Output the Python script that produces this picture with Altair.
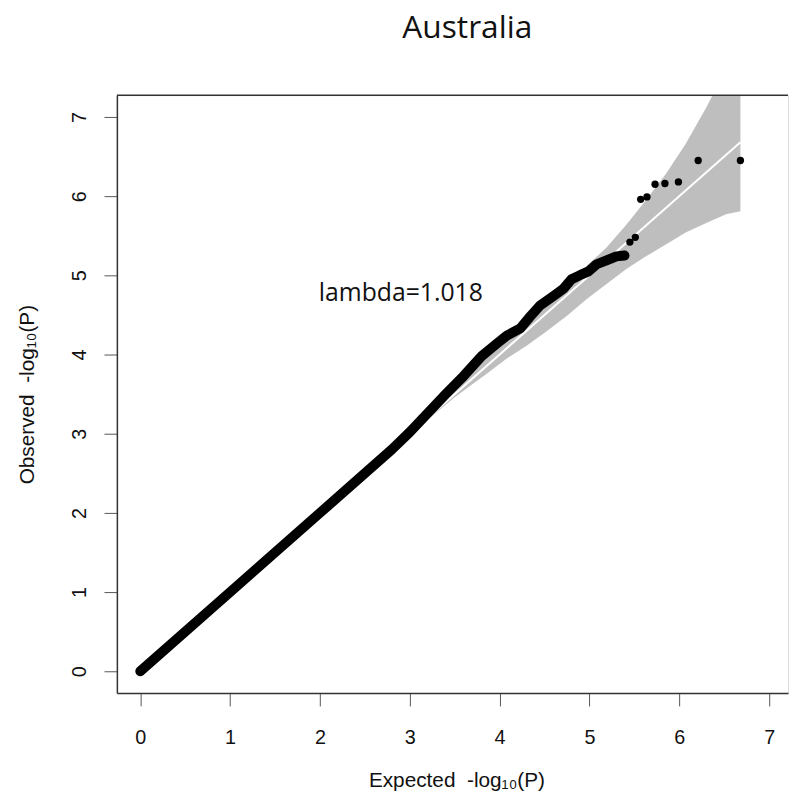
import altair as alt
import pandas as pd

# Dense part of the QQ curve (drawn as thick chain of points)
dense_expected = [0.0, 1.0, 2.0, 2.8, 3.0, 3.2, 3.4, 3.6, 3.8, 3.97, 4.08, 4.23, 4.34, 4.45, 4.60, 4.71, 4.80, 4.89, 4.99, 5.08, 5.19, 5.30, 5.39]
dense_observed = [0.0, 1.0, 2.0, 2.8, 3.02, 3.26, 3.5, 3.73, 3.98, 4.14, 4.24, 4.33, 4.48, 4.62, 4.74, 4.83, 4.95, 5.0, 5.05, 5.14, 5.19, 5.24, 5.25]

# Isolated top hits
tail_expected = [5.45, 5.51, 5.57, 5.64, 5.73, 5.84, 5.99, 6.21, 6.68]
tail_observed = [5.42, 5.48, 5.96, 5.99, 6.15, 6.16, 6.18, 6.45, 6.45]

# Confidence band
band_expected = [0.0, 3.0, 3.5, 3.86, 4.08, 4.30, 4.52, 4.75, 4.97, 5.19, 5.41, 5.63, 5.85, 6.07, 6.30, 6.52, 6.68]
band_lower = [0.0, 2.99, 3.46, 3.76, 3.95, 4.11, 4.29, 4.49, 4.70, 4.89, 5.08, 5.24, 5.39, 5.54, 5.66, 5.77, 5.81]
band_upper = [0.0, 3.02, 3.56, 3.96, 4.20, 4.42, 4.64, 4.88, 5.12, 5.35, 5.64, 5.95, 6.28, 6.66, 7.12, 7.6, 8.0]

# Diagonal
diag_expected = [0.0, 6.68]

x_ticks = [0, 1, 2, 3, 4, 5, 6, 7]
y_ticks = [0, 1, 2, 3, 4, 5, 6, 7]

W, H = 678, 604
xdom = [-0.26, 7.21]
ydom = [-0.275, 7.275]

xs = alt.Scale(domain=xdom, nice=False, zero=False)
ys = alt.Scale(domain=ydom, nice=False, zero=False)

SP = "\u00a0 "

xaxis = alt.Axis(values=x_ticks, format="d", grid=False, tickSize=13, tickColor="#555555", tickWidth=1,
                 domainColor="#333333", domainWidth=1.5, labelFontSize=20, labelFont="Liberation Sans",
                 labelColor="#111111", labelPadding=22, title="Expected" + SP + "-log\u2081\u2080(P)",
                 titleFont="Liberation Sans", titleFontSize=21, titleFontWeight="normal", titleColor="#111111",
                 titleX=343, titleY=88, titleBaseline="middle", titleAlign="center")
yaxis = alt.Axis(values=y_ticks, format="d", grid=False, tickSize=13, tickColor="#555555", tickWidth=1,
                 domainColor="#333333", domainWidth=1.5, labelFontSize=20, labelFont="Liberation Sans",
                 labelColor="#111111", labelAngle=270, labelAlign="center", labelBaseline="alphabetic",
                 labelPadding=19, title="Observed" + SP + "-log\u2081\u2080(P)",
                 titleFont="Liberation Sans", titleFontSize=21, titleFontWeight="normal", titleColor="#111111",
                 titleAngle=270, titleX=-90, titleY=302, titleBaseline="middle", titleAlign="center")

band_df = pd.DataFrame({"e": band_expected, "lo": band_lower, "hi": band_upper})
dense_df = pd.DataFrame({"e": dense_expected, "o": dense_observed})
tail_df = pd.DataFrame({"e": tail_expected, "o": tail_observed})
diag_df = pd.DataFrame({"e": diag_expected, "o": diag_expected})
lam_df = pd.DataFrame({"e": [2.9], "o": [4.78], "t": ["lambda=1.018"]})
title_df = pd.DataFrame({"t": ["Australia"]})

band = alt.Chart(band_df).mark_area(color="#BEBEBE", clip=True, opacity=1).encode(
    x=alt.X("e:Q", scale=xs, axis=xaxis),
    y=alt.Y("lo:Q", scale=ys, axis=yaxis),
    y2="hi:Q",
)
diag = alt.Chart(diag_df).mark_line(color="white", strokeWidth=2, clip=True).encode(
    x=alt.X("e:Q", scale=xs), y=alt.Y("o:Q", scale=ys)
)
dense = alt.Chart(dense_df).mark_line(color="black", strokeWidth=10, strokeCap="round",
                                      strokeJoin="round", clip=True).encode(
    x=alt.X("e:Q", scale=xs), y=alt.Y("o:Q", scale=ys)
)
tail = alt.Chart(tail_df).mark_circle(color="black", size=55, opacity=1, clip=True).encode(
    x=alt.X("e:Q", scale=xs), y=alt.Y("o:Q", scale=ys)
)
lam = alt.Chart(lam_df).mark_text(font="Open Sans", fontSize=25, color="#111111",
                                  align="center", baseline="middle").encode(
    x=alt.X("e:Q", scale=xs), y=alt.Y("o:Q", scale=ys), text="t:N"
)
title = alt.Chart(title_df).mark_text(font="Open Sans", fontSize=32, color="#111111",
                                      align="center", baseline="alphabetic").encode(
    x=alt.value(354), y=alt.value(-58), text="t:N"
)
top_rule = alt.Chart(title_df).mark_rule(color="#333333", strokeWidth=1.5).encode(
    x=alt.value(0), x2=alt.value(W), y=alt.value(0)
)

chart = alt.layer(band, diag, dense, tail, lam, title, top_rule).properties(
    width=W, height=H,
    autosize=alt.AutoSizeParams(type="none"),
    padding={"left": 110, "top": 84, "right": 2, "bottom": 108},
).configure_view(strokeWidth=0).configure(background="white")

chart.save("out.html", embed_options={"renderer": "svg", "actions": False})
